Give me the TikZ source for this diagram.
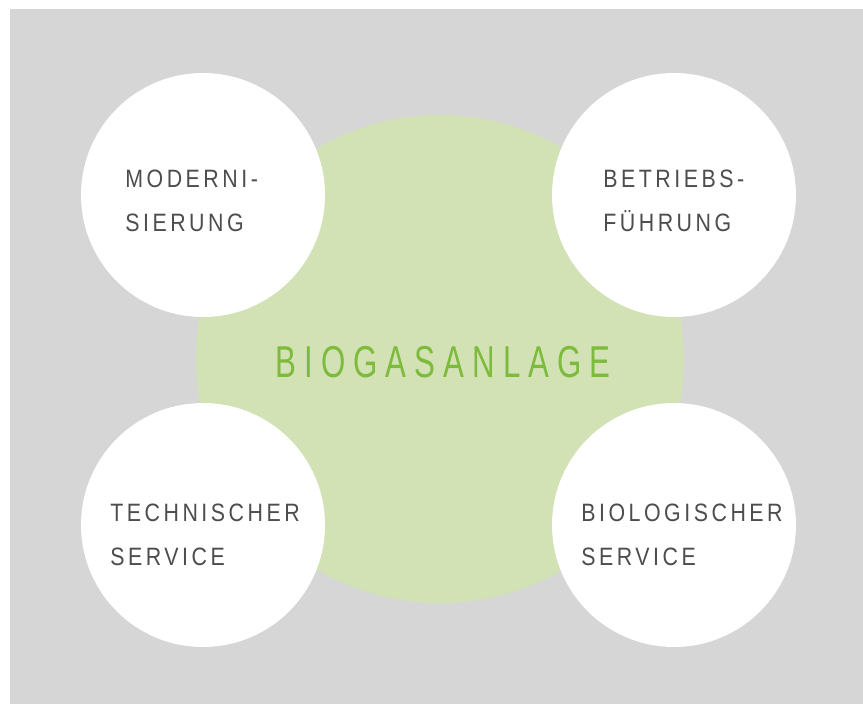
\documentclass[tikz,border=0pt]{standalone}
\usepackage{fontspec}
\usetikzlibrary{positioning}

\newfontfamily\labelfont[FakeStretch=0.85,LetterSpace=14]{Liberation Sans}
\newfontfamily\titlefont[FakeStretch=0.7,LetterSpace=18]{Liberation Sans}

\definecolor{bggray}{HTML}{D6D6D6}
\definecolor{corefill}{HTML}{D2E2B4}
\definecolor{coretext}{HTML}{7DBB3C}
\definecolor{labeltext}{HTML}{4D4D4D}

\begin{document}
\begin{tikzpicture}[x=0.02cm, y=-0.02cm,
							core/.style = {circle, fill=corefill, inner sep=0, minimum size=9.76cm},
							service/.style = {circle, fill=white, inner sep=0, minimum size=4.88cm},
							servicelabel/.style = {anchor=north west, inner sep=0, align=left, text=labeltext,
								font=\labelfont\fontsize{14.3}{25}\selectfont}
						]
						\useasboundingbox (0,0) rectangle (863,704);
						\fill[bggray] (10,9) rectangle (863,704);
						\node[core] (anlage) at (440,359) {};
						\foreach \name/\cx/\cy in {modern/203/195, betrieb/674/195, technik/203/525, biologie/674/525}{ \node[service] (\name) at (\cx,\cy) {};}
						\node[anchor=base, inner sep=0, text=coretext, font=\titlefont\fontsize{25.4}{30}\selectfont] (anlagetext) at (443,377) {BIOGASANLAGE};
						\node[servicelabel] (moderntext) at (125,170) {MODERNI-\\SIERUNG};
						\node[servicelabel] (betriebtext) at (603,170) {BETRIEBS-\\FÜHRUNG};
						\node[servicelabel] (techniktext) at (110,504) {TECHNISCHER\\SERVICE};
						\node[servicelabel] (biologietext) at (581,504) {BIOLOGISCHER\\SERVICE};
					\end{tikzpicture}
\end{document}
